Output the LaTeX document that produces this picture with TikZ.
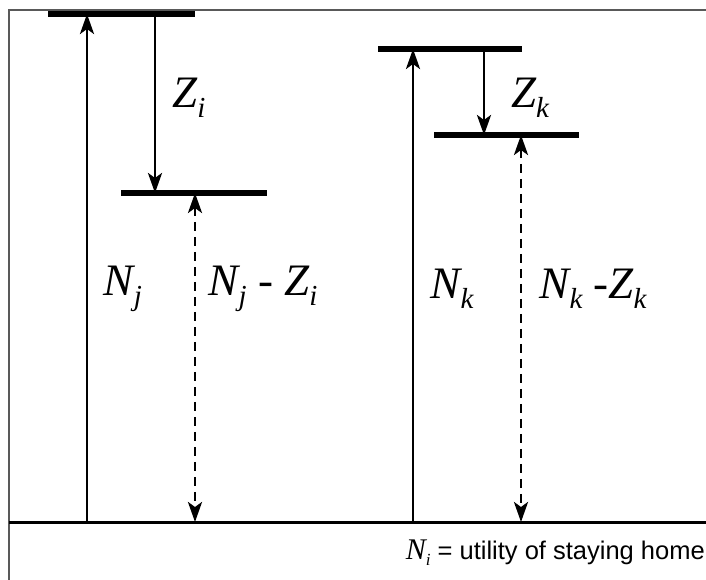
\documentclass[tikz,border=0pt]{standalone}
\usepackage{fontspec}
\setmainfont{Liberation Serif}
\setsansfont{Liberation Sans}
\usepackage{tikz}
\usetikzlibrary{arrows.meta}

\newcommand{\lvsym}[2]{#1\raisebox{-0.22em}{\fontsize{29}{32}\selectfont #2}}

\tikzset{
  level/.style={line width=5.5pt},
  gap/.style={line width=2.8pt, -{Stealth[length=20pt, width=14pt, inset=5pt]}},
  gapdash/.style={line width=2.8pt, dash pattern=on 9pt off 6pt, {Stealth[length=20pt, width=14pt, inset=5pt]}-{Stealth[length=20pt, width=14pt, inset=5pt]}},
  lbl/.style={font=\fontsize{45}{50}\selectfont\itshape, inner sep=0pt}
}

\begin{document}
\begin{tikzpicture}[x=1pt, y=-1pt]
\useasboundingbox (0,0) rectangle (706,580);
% frame
\draw[gray!70!black, line width=1.8pt] (9,580) -- (9,10) -- (706,10);
% levels
\coordinate (base) at (9,522);
\coordinate (baseR) at (706,522);
\coordinate (jTop) at (87,14);
\coordinate (jBot) at (87,522);
\coordinate (iTop) at (155,14);
\coordinate (iBot) at (155,193);
\coordinate (djTop) at (195,193);
\coordinate (djBot) at (195,522);
\coordinate (kTop) at (413,49);
\coordinate (kBot) at (413,522);
\coordinate (zkTop) at (484,49);
\coordinate (zkBot) at (484,135);
\coordinate (dkTop) at (521,135);
\coordinate (dkBot) at (521,522);
\draw[line width=3pt] (base) -- (baseR);
\draw[level] (48,14) -- (195,14);
\draw[level] (121,193) -- (267,193);
\draw[level] (378,49) -- (522,49);
\draw[level] (434,135) -- (579,135);
% arrows
\draw[gap] (jBot) -- (jTop);
\draw[gap] (iTop) -- (iBot);
\draw[gapdash] (djTop) -- (djBot);
\draw[gap] (kBot) -- (kTop);
\draw[gap] (zkTop) -- (zkBot);
\draw[gapdash] (dkTop) -- (dkBot);
% labels
\node[lbl] (Zi) at (189,98) {\lvsym{Z}{i}};
\node[lbl] (Zk) at (530,98) {\lvsym{Z}{k}};
\node[lbl] (Nj) at (123,289) {\lvsym{N}{j}};
\node[lbl] (NjZi) at (263,289) {\lvsym{N}{j} {\upshape-} \lvsym{Z}{i}};
\node[lbl] (Nk) at (452,289) {\lvsym{N}{k}};
\node[lbl] (NkZk) at (593,289) {\lvsym{N}{k} {\upshape-}\lvsym{Z}{k}};
\node[anchor=east, inner sep=0pt, font=\sffamily\fontsize{25.5}{28}\selectfont] (note) at (705,553) {{\rmfamily\itshape\fontsize{30}{32}\selectfont N\raisebox{-0.2em}{\fontsize{17}{18}\selectfont i}} = utility of staying home};
\end{tikzpicture}
\end{document}
